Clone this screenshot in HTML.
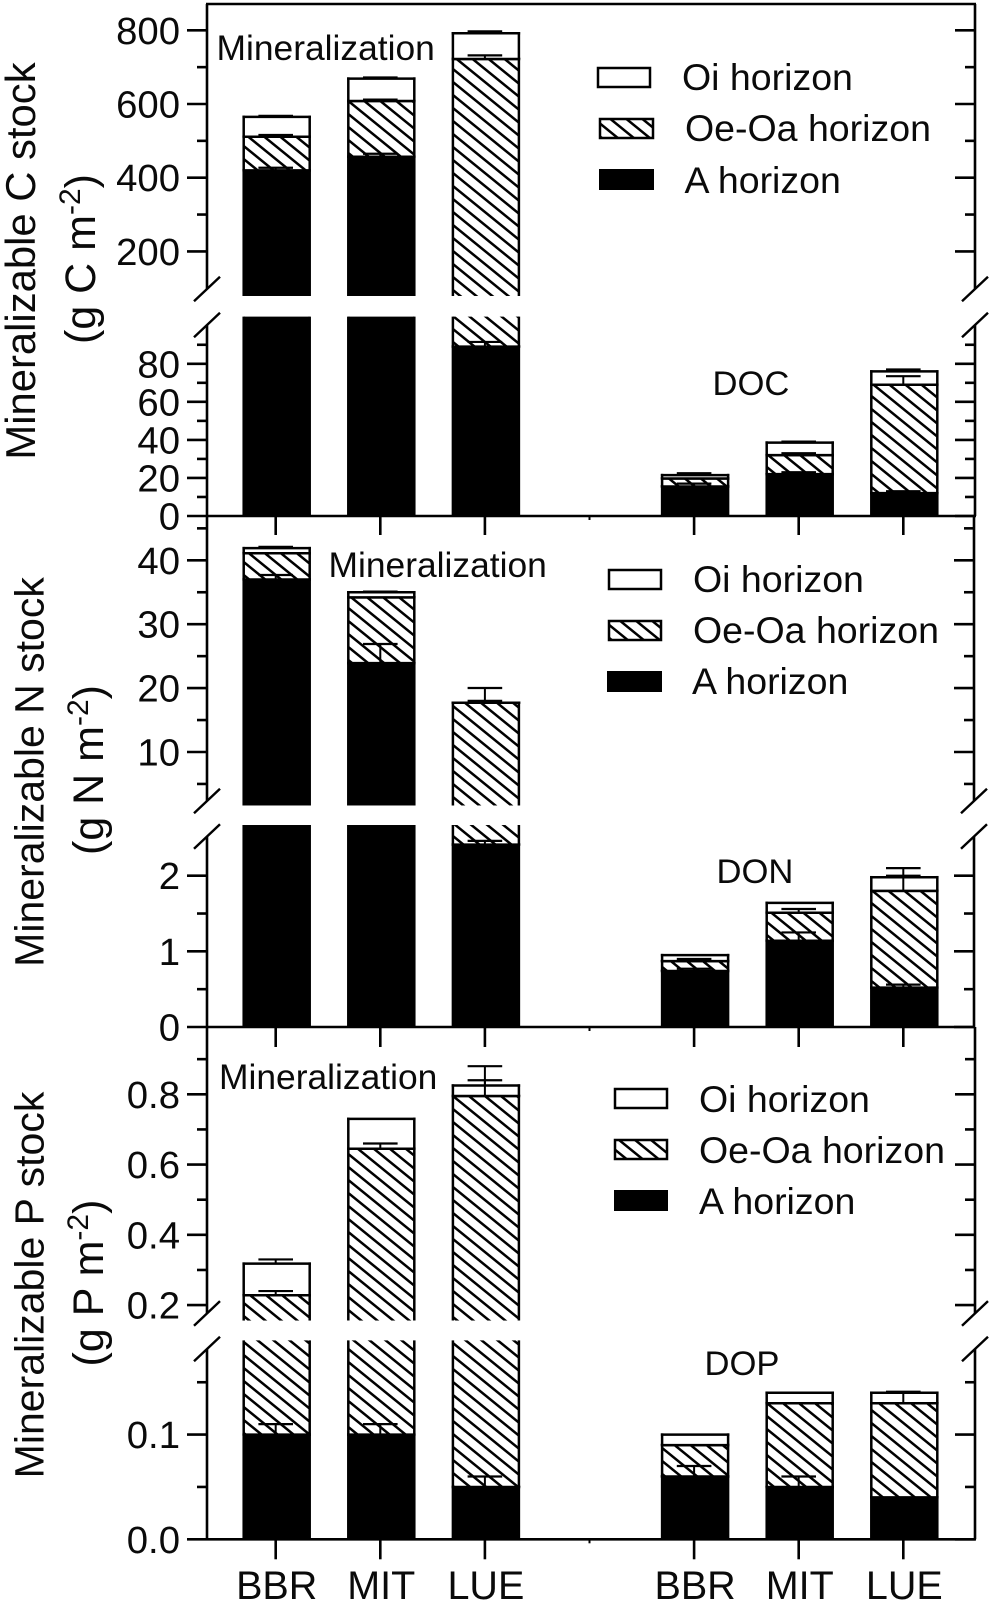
<!DOCTYPE html>
<html lang="en">
<head>
<meta charset="utf-8">
<title>Mineralizable C, N and P stocks by soil horizon</title>
<style>
html,body{margin:0;padding:0;background:#fff;}
svg{display:block;}
text{font-family:"Liberation Sans",Arial,sans-serif;fill:#0a0a0a;}
.tick{font-size:38.3px;text-anchor:end;}
.cat{font-size:39.5px;text-anchor:middle;}
.title{font-size:41.8px;text-anchor:middle;}
.title-small{font-size:41px;text-anchor:middle;}
.unit{font-size:43px;text-anchor:middle;}
.legend{font-size:37.5px;}
.group-label{font-size:35.4px;}
.dis-label{font-size:34.6px;}
</style>
</head>
<body>
<svg id="chart" width="992" height="1604" viewBox="0 0 992 1604" xmlns="http://www.w3.org/2000/svg">
<defs>
<pattern id="hatch" patternUnits="userSpaceOnUse" width="16" height="13">
<rect width="16" height="13" fill="#fff"/>
<path d="M-4,-3.25 L20,16.25 M-4,9.75 L4,16.25 M12,-3.25 L20,3.25" stroke="#000" stroke-width="2.5" fill="none"/>
</pattern>
</defs>
<rect width="992" height="1604" fill="#fff"/>

<g id="plots"></g>

<g>
<text class="title" transform="translate(35,261) rotate(-90)">Mineralizable C stock</text>
<text class="unit" transform="translate(95,259) rotate(-90)">(g C m<tspan font-size="30" dy="-15">-2</tspan><tspan dy="15">)</tspan></text>
<text class="title-small" transform="translate(43.5,772) rotate(-90)">Mineralizable N stock</text>
<text class="unit" transform="translate(103,770) rotate(-90)">(g N m<tspan font-size="30" dy="-15">-2</tspan><tspan dy="15">)</tspan></text>
<text class="title-small" transform="translate(43.5,1285) rotate(-90)">Mineralizable P stock</text>
<text class="unit" transform="translate(103,1283) rotate(-90)">(g P m<tspan font-size="30" dy="-15">-2</tspan><tspan dy="15">)</tspan></text>
</g>

<g>
<text class="group-label" x="216.5" y="60">Mineralization</text>
<text class="dis-label" x="712.5" y="395">DOC</text>
<text class="group-label" x="328.5" y="577">Mineralization</text>
<text class="dis-label" x="716.5" y="883">DON</text>
<text class="group-label" x="219" y="1089">Mineralization</text>
<text class="dis-label" x="704.5" y="1375">DOP</text>
</g>

<g>
<rect x="598" y="68" width="52" height="19" fill="#fff" stroke="#000" stroke-width="2.5"/>
<rect x="600" y="119" width="53" height="19" fill="url(#hatch)" stroke="#000" stroke-width="2.5"/>
<rect x="599" y="169" width="55" height="21" fill="#000"/>
<text class="legend" x="682" y="90">Oi horizon</text>
<text class="legend" x="685" y="141">Oe-Oa horizon</text>
<text class="legend" x="684.5" y="193">A horizon</text>
</g>
<g>
<rect x="609" y="570" width="52" height="19" fill="#fff" stroke="#000" stroke-width="2.5"/>
<rect x="609" y="621" width="52" height="19" fill="url(#hatch)" stroke="#000" stroke-width="2.5"/>
<rect x="607" y="671" width="55" height="21" fill="#000"/>
<text class="legend" x="693" y="592">Oi horizon</text>
<text class="legend" x="693" y="643">Oe-Oa horizon</text>
<text class="legend" x="692" y="694">A horizon</text>
</g>
<g>
<rect x="615" y="1089" width="52" height="19" fill="#fff" stroke="#000" stroke-width="2.5"/>
<rect x="615" y="1140" width="52" height="19" fill="url(#hatch)" stroke="#000" stroke-width="2.5"/>
<rect x="614" y="1190" width="54" height="21" fill="#000"/>
<text class="legend" x="699" y="1112">Oi horizon</text>
<text class="legend" x="699" y="1163">Oe-Oa horizon</text>
<text class="legend" x="699" y="1214">A horizon</text>
</g>

<script>
// ---------- data ----------
const categories = ['BBR', 'MIT', 'LUE', 'BBR', 'MIT', 'LUE'];

// Carbon: layer amounts per bar (g C m-2)
const cHorizonA = [420, 457, 89, 15.5, 22, 12];
const cHorizonOe = [91, 151, 633, 4.2, 10, 57];
const cHorizonOi = [54, 61, 70, 1.8, 6.6, 7];
const cErrorA = [7, 8, 2.5, 1.5, 1, 1];
const cErrorOe = [5, 4, 10, 0, 1, 4.5];
const cErrorOi = [3, 3, 5, 1, 0.5, 1];
const cTickLabels = ['0', '20', '40', '60', '80', '200', '400', '600', '800'];
const cMinorTicks = [10, 30, 50, 70, 90, 300, 500, 700];

// Nitrogen (g N m-2)
const nHorizonA = [37, 23.9, 2.41, 0.74, 1.14, 0.52];
const nHorizonOe = [4.1, 10.3, 15.3, 0.13, 0.37, 1.28];
const nHorizonOi = [0.8, 0.8, 0, 0.08, 0.13, 0.18];
const nErrorA = [0.7, 3, 0.05, 0.03, 0.11, 0.04];
const nErrorOe = [0, 0, 2.3, 0.03, 0.05, 0.3];
const nErrorOi = [0.2, 0.1, 0.3, 0, 0, 0.02];
const nTickLabels = ['0', '1', '2', '10', '20', '30', '40'];
const nMinorTicks = [0.5, 1.5, 5, 15, 25, 35, 45];

// Phosphorus (g P m-2)
const pHorizonA = [0.1, 0.1, 0.05, 0.06, 0.05, 0.04];
const pHorizonOe = [0.128, 0.545, 0.745, 0.03, 0.08, 0.09];
const pHorizonOi = [0.09, 0.085, 0.03, 0.01, 0.01, 0.01];
const pErrorA = [0.01, 0.01, 0.01, 0.01, 0.01, 0];
const pErrorOe = [0.012, 0.015, 0.085, 0, 0, 0.011];
const pErrorOi = [0.012, 0, 0.015, 0, 0, 0];
const pTickLabels = ['0.0', '0.1', '0.2', '0.4', '0.6', '0.8'];
const pMinorTicks = [0.05, 0.15, 0.3, 0.5, 0.7, 0.9];

// ---------- panel geometry ----------
const panels = [
  { key: 'c', a: cHorizonA, oe: cHorizonOe, oi: cHorizonOi, ea: cErrorA, eo: cErrorOe, ei: cErrorOi,
    labels: cTickLabels, minor: cMinorTicks, showCats: false,
    top: 4, bottom: 516, right: 975, zeroY: 516, lowV: 80, lowVY: 363.8, highA: 800, highAY: 30.3, highB: 200, highBY: 251.4,
    lowMax: 104.8, upMin: 79, gapTop: 289, gapBot: 325, tickLen: 19 },
  { key: 'n', a: nHorizonA, oe: nHorizonOe, oi: nHorizonOi, ea: nErrorA, eo: nErrorOe, ei: nErrorOi,
    labels: nTickLabels, minor: nMinorTicks, showCats: false,
    top: 516, bottom: 1027, right: 974, zeroY: 1027, lowV: 2, lowVY: 875.7, highA: 40, highAY: 560.3, highB: 10, highBY: 752,
    lowMax: 2.67, upMin: 1.63, gapTop: 801, gapBot: 836.5, tickLen: 20 },
  { key: 'p', a: pHorizonA, oe: pHorizonOe, oi: pHorizonOi, ea: pErrorA, eo: pErrorOe, ei: pErrorOi,
    labels: pTickLabels, minor: pMinorTicks, showCats: true,
    top: 1027, bottom: 1539.3, right: 975, zeroY: 1539.3, lowV: 0.1, lowVY: 1434.6, highA: 0.8, highAY: 1094.3, highB: 0.2, highBY: 1305.1,
    lowMax: 0.19, upMin: 0.156, gapTop: 1313.4, gapBot: 1349, tickLen: 20 }
];

const SVGNS = 'http://www.w3.org/2000/svg';
const INK = '#000';
const LEFT = 207;

function xScale(i) {
  const slot = i < 3 ? i : i + 1;
  return 275.7 + 104.6 * slot;
}
function upperY(p, v) {
  return p.highAY + (p.highBY - p.highAY) * (p.highA - v) / (p.highA - p.highB);
}
function yScale(p, v) {
  if (v <= p.lowMax) {
    return p.zeroY + (p.lowVY - p.zeroY) * v / p.lowV;
  }
  return upperY(p, v);
}
function mk(parent, tag, attrs, name) {
  const el = document.createElementNS(SVGNS, tag);
  for (const k in attrs) el.setAttribute(k, attrs[k]);
  
  
  parent.appendChild(el);
  return el;
}
function stroke(parent, x1, y1, x2, y2, w, name) {
  return mk(parent, 'line', { x1: x1, y1: y1, x2: x2, y2: y2, stroke: INK, 'stroke-width': w }, name);
}
// One piece of a bar layer; open ends are left unstroked where the axis break cuts it.
function drawPiece(parent, cx, yt, yb, openTop, openBottom, fill, name) {
  const xa = cx - 33, xb = cx + 33;
  const h = Math.max(0, yb - yt);
  mk(parent, 'rect', { x: xa, y: yt, width: xb - xa, height: h, fill: fill }, name + '-fill');
  const sy = openTop ? yt : yt - 1.25;
  stroke(parent, xa, sy, xa, yb, 2.5, name + '-left-edge');
  stroke(parent, xb, sy, xb, yb, 2.5, name + '-right-edge');
  if (!openTop) stroke(parent, xa - 1.25, yt, xb + 1.25, yt, 2.5, name + '-top-edge');
  if (!openBottom) stroke(parent, xa - 1.25, yb, xb + 1.25, yb, 2.5, name + '-bottom-edge');
}
// A bar layer spanning v0..v1, split where it crosses the axis break.
function drawLayer(parent, p, cx, v0, v1, fill, name) {
  if (v0 < p.lowMax) {
    const cut = v1 > p.lowMax;
    drawPiece(parent, cx, yScale(p, cut ? p.lowMax : v1), yScale(p, v0), cut, v0 === 0, fill, name + '-lower');
  }
  if (v1 > p.lowMax) {
    const cut = v0 <= p.lowMax;
    drawPiece(parent, cx, upperY(p, v1), cut ? upperY(p, p.upMin) : upperY(p, v0), false, cut, fill, name + '-upper');
  }
}
function drawWhisker(parent, p, cx, base, err, name) {
  if (!err) return;
  const y0 = yScale(p, base), y1 = yScale(p, base + err);
  stroke(parent, cx, y0, cx, y1, 2, name + '-stem');
  stroke(parent, cx - 17.3, y1, cx + 17.3, y1, 2.2, name + '-cap');
}

const root = document.getElementById('plots');
panels.forEach(function (p) {
  const g = mk(root, 'g', {}, p.key + '-panel');

  // bars
  categories.forEach(function (cat, i) {
    const cx = xScale(i) + 1;
    const barName = p.key + '-bar-' + cat.toLowerCase() + '-' + (i < 3 ? 'mineralization' : 'dissolved');
    const bar = mk(g, 'g', {}, barName);
    const t1 = p.a[i], t2 = t1 + p.oe[i], t3 = t2 + p.oi[i];
    drawLayer(bar, p, cx, 0, t1, '#000', barName + '-a');
    drawLayer(bar, p, cx, t1, t2, 'url(#hatch)', barName + '-oe-oa');
    drawLayer(bar, p, cx, t2, t3, '#fff', barName + '-oi');
    const w = xScale(i);
    drawWhisker(bar, p, w, t1, p.ea[i], barName + '-a-error');
    drawWhisker(bar, p, w, t2, p.eo[i], barName + '-oe-oa-error');
    drawWhisker(bar, p, w, t3, p.ei[i], barName + '-oi-error');
  });

  // axes
  const axes = mk(g, 'g', {}, p.key + '-axes');
  stroke(axes, LEFT, p.top, LEFT, p.gapTop, 2.6, p.key + '-left-axis-upper');
  stroke(axes, LEFT, p.gapBot, LEFT, p.bottom, 2.6, p.key + '-left-axis-lower');
  stroke(axes, p.right, p.top, p.right, p.gapTop, 2.6, p.key + '-right-axis-upper');
  stroke(axes, p.right, p.gapBot, p.right, p.bottom, 2.6, p.key + '-right-axis-lower');
  if (p.key === 'c') stroke(axes, LEFT - 1, p.top, p.right + 1, p.top, 2.6, 'top-frame');
  stroke(axes, LEFT, p.bottom, p.right + 1, p.bottom, 2.6, p.key + '-baseline');

  // axis break slashes
  [p.gapTop, p.gapBot].forEach(function (yc, n) {
    const side = n === 0 ? 'upper' : 'lower';
    stroke(axes, 194, yc + 12.3, 220, yc - 12.3, 2.4, p.key + '-left-break-' + side);
    stroke(axes, p.right - 13, yc + 12.3, p.right + 13, yc - 12.3, 2.4, p.key + '-right-break-' + side);
  });

  // y ticks
  p.labels.forEach(function (label) {
    const y = yScale(p, parseFloat(label));
    stroke(axes, 187, y, LEFT, y, 2.6, p.key + '-y-tick-' + label);
    stroke(axes, p.right - 20, y, p.right, y, 2.6, p.key + '-right-tick-' + label);
    const t = mk(axes, 'text', { x: 180, y: y + 13.5, class: 'tick' }, p.key + '-y-tick-label-' + label);
    t.textContent = label;
  });
  p.minor.forEach(function (v) {
    const y = yScale(p, v);
    stroke(axes, 197, y, LEFT, y, 2.6, p.key + '-y-minor-tick-' + v);
    stroke(axes, p.right - 10, y, p.right, y, 2.6, p.key + '-right-minor-tick-' + v);
  });

  // x ticks
  categories.forEach(function (cat, i) {
    const x = xScale(i);
    stroke(axes, x, p.bottom, x, p.bottom + p.tickLen, 2.6, p.key + '-x-tick-' + i);
    if (p.showCats) {
      const t = mk(axes, 'text', { x: x + 1, y: 1599, class: 'cat' }, 'x-label-' + cat.toLowerCase() + '-' + i);
      t.textContent = cat;
    }
  });
  stroke(axes, xScale(2) + 104.6, p.bottom, xScale(2) + 104.6, p.bottom + 4, 2, p.key + '-x-spacer-tick');
});
</script>
</svg>
</body>
</html>
